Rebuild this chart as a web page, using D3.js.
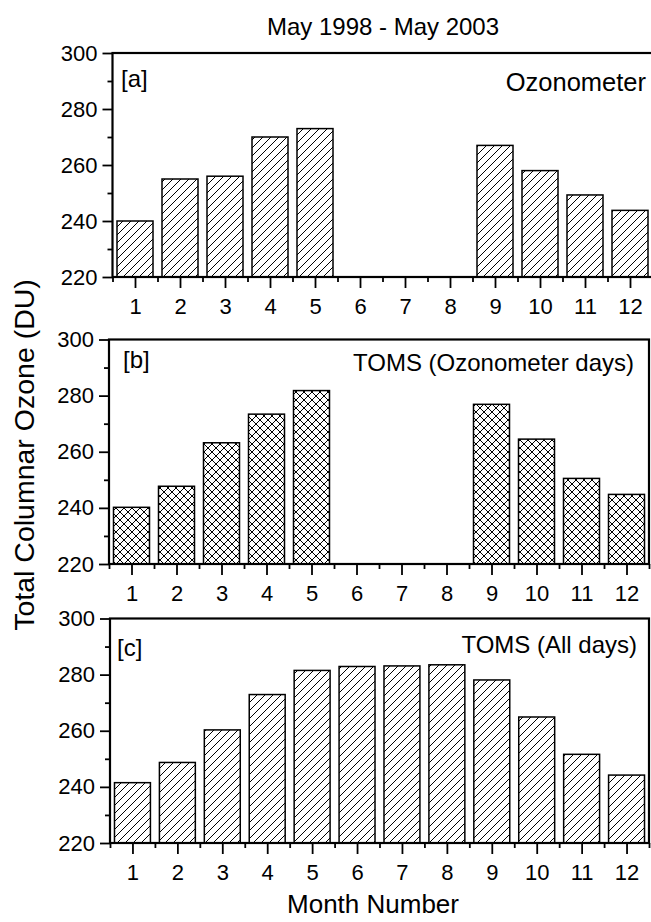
<!DOCTYPE html>
<html>
<head>
<meta charset="utf-8">
<script src="https://cdn.jsdelivr.net/npm/d3@7"></script>
<style>
  body { margin: 0; background: #fff; }
  svg { display: block; font-family: "Liberation Sans", Arial, Helvetica, sans-serif; }
</style>
</head>
<body>
<div id="chart"></div>
<script>
// month numbers on the x axis
const months = [1, 2, 3, 4, 5, 6, 7, 8, 9, 10, 11, 12];
const yTicks = [220, 240, 260, 280, 300];

// monthly mean total columnar ozone (DU), null = no data
const ozonometer = [240, 255, 256, 270, 273, null, null, null, 267, 258, 249.3, 243.8];
const tomsOzoDays = [240.2, 247.7, 263.2, 273.4, 281.8, null, null, null, 276.9, 264.5, 250.5, 244.8];
const tomsAllDays = [241.5, 248.7, 260.3, 272.9, 281.5, 282.9, 283.1, 283.5, 278.1, 264.9, 251.6, 244.2];

const panelLabels = ["[a]", "[b]", "[c]"];
const panelTitles = ["Ozonometer", "TOMS (Ozonometer days)", "TOMS (All days)"];

const width = 651, height = 922;

const svg = d3.select("#chart").append("svg")
  .attr("width", width)
  .attr("height", height)
  .attr("viewBox", [0, 0, width, height]);

// hatch patterns
const defs = svg.append("defs");
const s = 8;
const fwd = `M0,${s} L${s},0 M${-s/4},${s/4} L${s/4},${-s/4} M${s*3/4},${s*5/4} L${s*5/4},${s*3/4}`;
const back = `M0,0 L${s},${s} M${-s/4},${s*3/4} L${s/4},${s*5/4} M${s*3/4},${-s/4} L${s*5/4},${s/4}`;

defs.append("pattern")
  .attr("id", "hatch")
  .attr("patternUnits", "userSpaceOnUse")
  .attr("width", s).attr("height", s)
  .append("path")
    .attr("d", fwd)
    .attr("stroke", "#000").attr("stroke-width", 1);

const cross = defs.append("pattern")
  .attr("id", "cross")
  .attr("patternUnits", "userSpaceOnUse")
  .attr("width", s).attr("height", s);
cross.append("path").attr("d", fwd).attr("stroke", "#000").attr("stroke-width", 1);
cross.append("path").attr("d", back).attr("stroke", "#000").attr("stroke-width", 1);

// panel frames (pixel boxes of the three plots)
const panels = [
  {values: ozonometer, fill: "url(#hatch)", left: 112.5, right: 652.5, top: 53, bottom: 277,
   labelX: 121, labelY: 87, titleX: 646, titleY: 91, titleSize: 25.5},
  {values: tomsOzoDays, fill: "url(#cross)", left: 109, right: 649, top: 339.5, bottom: 564,
   labelX: 123, labelY: 368, titleX: 634, titleY: 371, titleSize: 24},
  {values: tomsAllDays, fill: "url(#hatch)", left: 110, right: 649, top: 618.5, bottom: 843,
   labelX: 117, labelY: 656, titleX: 637, titleY: 653, titleSize: 24}
];

panels.forEach((p, i) => {
  const g = svg.append("g");

  const x = d3.scaleLinear([0.5, 12.5], [p.left, p.right]);
  const y = d3.scaleLinear([220, 300], [p.bottom, p.top]);
  const bw = (x(2) - x(1)) * 0.8;

  const data = months.map((m, j) => ({month: m, value: p.values[j]})).filter(d => d.value != null);

  // bars
  g.selectAll("rect.bar")
    .data(data)
    .join("rect")
      .attr("class", "bar")
      .attr("x", d => x(d.month) - bw / 2)
      .attr("width", bw)
      .attr("y", d => y(d.value))
      .attr("height", d => y(220) - y(d.value))
      .attr("fill", p.fill)
      .attr("stroke", "#000")
      .attr("stroke-width", 1.5);

  // y axis: minor then major ticks
  g.append("g")
    .attr("transform", `translate(${p.left},0)`)
    .call(d3.axisLeft(y).tickValues(d3.range(230, 300, 20)).tickSize(5).tickFormat(""))
    .call(a => a.select(".domain").remove())
    .call(a => a.selectAll("line").attr("stroke-width", 1.8));

  g.append("g")
    .attr("transform", `translate(${p.left},0)`)
    .call(d3.axisLeft(y).tickValues(yTicks).tickSize(10).tickPadding(5))
    .call(a => a.select(".domain").remove())
    .call(a => a.selectAll("line").attr("stroke-width", 1.8))
    .call(a => a.selectAll("text").attr("font-size", 22).attr("font-family", null).attr("fill", "#000"));

  // x axis: boundary ticks then month ticks
  g.append("g")
    .attr("transform", `translate(0,${p.bottom})`)
    .call(d3.axisBottom(x).tickValues(d3.range(0.5, 13, 1)).tickSize(5).tickFormat(""))
    .call(a => a.select(".domain").remove())
    .call(a => a.selectAll("line").attr("stroke-width", 1.8));

  g.append("g")
    .attr("transform", `translate(0,${p.bottom})`)
    .call(d3.axisBottom(x).tickValues(months).tickSize(11).tickPadding(10).tickFormat(d3.format("d")))
    .call(a => a.select(".domain").remove())
    .call(a => a.selectAll("line").attr("stroke-width", 1.8))
    .call(a => a.selectAll("text").attr("font-size", 22).attr("font-family", null).attr("fill", "#000"));

  // frame
  g.append("rect")
    .attr("x", p.left)
    .attr("y", p.top)
    .attr("width", p.right - p.left)
    .attr("height", p.bottom - p.top)
    .attr("fill", "none")
    .attr("stroke", "#000")
    .attr("stroke-width", 2.2);

  // panel tag and title
  g.append("text")
    .attr("x", p.labelX)
    .attr("y", p.labelY)
    .attr("font-size", 24)
    .text(panelLabels[i]);

  g.append("text")
    .attr("x", p.titleX)
    .attr("y", p.titleY)
    .attr("text-anchor", "end")
    .attr("font-size", p.titleSize)
    .text(panelTitles[i]);
});

// main title
svg.append("text")
  .attr("x", 383)
  .attr("y", 35)
  .attr("text-anchor", "middle")
  .attr("font-size", 24)
  .text("May 1998 - May 2003");

// y-axis label
svg.append("text")
  .attr("transform", "translate(34,455) rotate(-90)")
  .attr("text-anchor", "middle")
  .attr("font-size", 28.5)
  .text("Total Columnar Ozone (DU)");

// x-axis label
svg.append("text")
  .attr("x", 373)
  .attr("y", 913)
  .attr("text-anchor", "middle")
  .attr("font-size", 26)
  .text("Month Number");
</script>
</body>
</html>
